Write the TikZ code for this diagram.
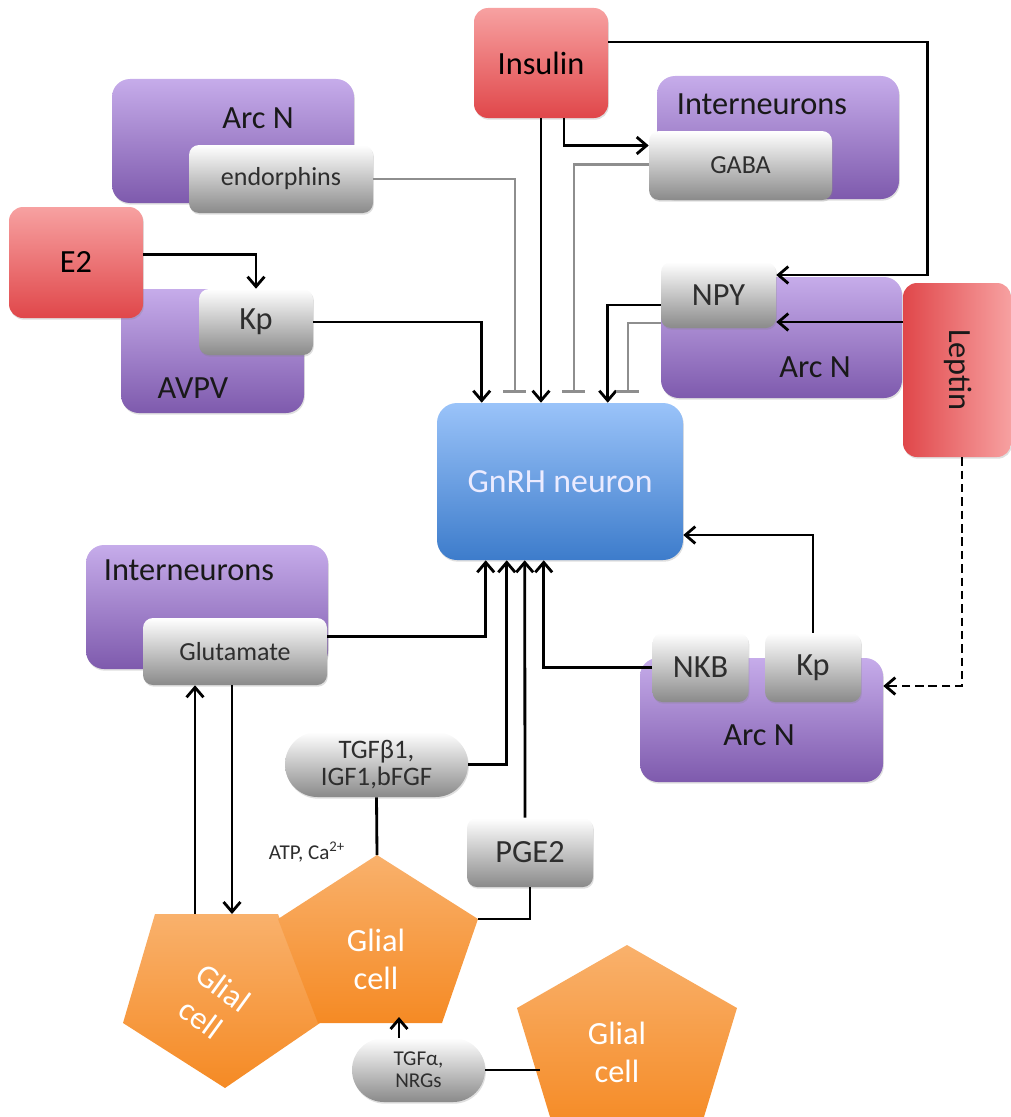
\documentclass[tikz,border=0pt]{standalone}
\usepackage{fontspec}
\setmainfont{Carlito}
\usetikzlibrary{arrows.meta, calc, shapes.misc, shadows}

\definecolor{redtop}{HTML}{F7A1A1}
\definecolor{redbot}{HTML}{E0474A}
\definecolor{purtop}{HTML}{C6ACEA}
\definecolor{purbot}{HTML}{7E5AAD}
\definecolor{bluetop}{HTML}{9AC3F9}
\definecolor{bluebot}{HTML}{3D7CCB}
\definecolor{greybot}{HTML}{8A8A8A}
\definecolor{orgtop}{HTML}{F9B16C}
\definecolor{orgbot}{HTML}{F58A24}
\definecolor{inhgrey}{HTML}{8E8E8E}
\definecolor{txtgrey}{HTML}{2E2E2E}

\newcommand{\lblbig}{\fontsize{23}{27}\selectfont}
\newcommand{\lblmid}{\fontsize{18.5}{22}\selectfont}
\newcommand{\lblsml}{\fontsize{15}{15.5}\selectfont}

\begin{document}
\begin{tikzpicture}[
    x=0.025cm, y=-0.025cm,
    >={Straight Barb[length=7pt, width=12pt]},
    sz/.style 2 args={minimum width=#1*0.025cm, minimum height=#2*0.025cm},
    boxbase/.style={inner sep=0pt, align=center,
        drop shadow={shadow xshift=0.6pt, shadow yshift=-1.2pt, opacity=0.25}},
    redbase/.style={boxbase, rounded corners=0.35cm, font=\lblbig},
    redbox/.style={redbase, top color=redtop, bottom color=redbot},
    purbox/.style={boxbase, rounded corners=0.45cm, top color=purtop, bottom color=purbot},
    greybox/.style={boxbase, rounded corners=0.25cm, top color=white,
        bottom color=greybot, text=txtgrey, font=\lblbig},
    pillbox/.style={boxbase, rounded rectangle, top color=white,
        bottom color=greybot, text=txtgrey},
    lbl/.style={font=\lblbig, text=black!90},
    arr/.style={->, line width=2pt},
    link/.style={line width=2pt},
    inh/.style={-{Bar[width=16pt]}, line width=1.7pt, draw=inhgrey},
    glial/.style={top color=orgtop, bottom color=orgbot},
    glialtxt/.style={font=\lblbig, text=white, align=center}
  ]
  \useasboundingbox (0,0) rectangle (1011,1117);
  \clip (0,0) rectangle (1011,1117);

  % glial cells
  \coordinate (gmTop) at (377,855);
  \coordinate (gmRight) at (478,919);
  \coordinate (gmBot) at (399,1017);
  \coordinate (glA) at (195,914);
  \coordinate (glB) at (232,914);
  \coordinate (grL) at (540,1070);
  \path[glial] (155,914) -- (278,914) -- (320,1023) -- (225,1088) -- (123,1023) -- cycle;
  \path[glial] (gmTop) -- (gmRight) -- (442,1023) -- (318,1023) -- (278,919) -- cycle;
  \path[glial] (627,945) -- (737,1008) -- (700,1130) -- (554,1130) -- (517,1008) -- cycle;
  \node[glialtxt, rotate=-36] (glialL) at (212,1003) {Glial\\cell};
  \node[glialtxt] (glialM) at (376,959) {Glial\\cell};
  \node[glialtxt] (glialR) at (617,1052) {Glial\\cell};

  % nuclei
  \node[purbox, sz={242}{124}] (arcTL) at (233,141) {};
  \node[purbox, sz={183}{124}] (avpv) at (212.5,351) {};
  \node[purbox, sz={242}{123}] (intTR) at (778,137.5) {};
  \node[purbox, sz={241}{121}] (arcR) at (781.5,337.5) {};
  \node[purbox, sz={242}{124}] (intL) at (207,607) {};
  \node[purbox, sz={243}{124}] (arcB) at (761.5,720) {};
  \node[lbl] (arcTLlbl) at (258,118) {Arc N};
  \node[lbl] (avpvlbl) at (193,388) {AVPV};
  \node[lbl] (intTRlbl) at (762,104) {Interneurons};
  \node[lbl] (arcRlbl) at (815,367) {Arc N};
  \node[lbl] (intLlbl) at (189,570) {Interneurons};
  \node[lbl] (arcBlbl) at (759,735) {Arc N};

  % signals
  \node[redbox, sz={134}{110}] (insulin) at (541,63) {Insulin};
  \node[redbox, sz={134}{111}] (e2) at (76,262.5) {E2};
  \node[redbase, left color=redbot, right color=redtop, sz={108}{174}] (leptin) at (957,370) {};
  \node[lbl, rotate=-90] (leptinlbl) at (958,370) {Leptin};

  \node[greybox, font=\lblmid, sz={184}{68}] (endo) at (281,179) {endorphins};
  \node[greybox, sz={114}{66}] (kpA) at (256,322) {Kp};
  \node[greybox, font=\lblmid, sz={183}{69}] (gaba) at (740.5,165.5) {GABA};
  \node[greybox, sz={115}{66}] (npy) at (718.5,295) {NPY};
  \node[greybox, font=\lblmid, sz={184}{67}] (glut) at (235,651.5) {Glutamate};
  \node[greybox, sz={96}{69}] (nkb) at (700.5,667.5) {NKB};
  \node[greybox, sz={96}{69}] (kpB) at (813,667.5) {Kp};
  \node[greybox, sz={126}{69}] (pge2) at (530,852.5) {PGE2};
  \node[pillbox, font=\fontsize{19}{19.5}\selectfont, sz={183}{65}] (tgfb) at (376.5,764.5) {TGFβ1,\\IGF1,bFGF};
  \node[pillbox, font=\lblsml, sz={133}{64}] (tgfa) at (418.5,1070) {TGFα,\\NRGs};
  \node[font=\lblsml, text=txtgrey] (atp) at (307,852) {ATP, Ca\textsuperscript{2+}};

  \node[boxbase, rounded corners=0.5cm, top color=bluetop, bottom color=bluebot,
    text=white!92!blue, font=\fontsize{24}{28}\selectfont, sz={246}{157}] (gnrh) at (560,481.5) {GnRH neuron};

  % inputs from above
  \draw[arr] ($(e2.east)+(0,-8)$) -| (kpA.north);
  \draw[arr] (kpA.east) -| ($(gnrh.north west)+(45,0)$);
  \draw[inh] (endo.east) -| ($(gnrh.north west)+(78,-10)$);
  \draw[arr] (insulin.south) -- (insulin.south |- gnrh.north);
  \draw[arr] ($(insulin.south)+(23,0)$) |- ($(gaba.west)+(0,-20)$);
  \draw[inh] ($(gaba.west)+(0,-1)$) -| ($(gnrh.north west)+(137,-10)$);
  \draw[arr] ($(insulin.east)+(0,-21)$) -| ($(npy.east)+(151,-20)$) -- ($(npy.east)+(0,-20)$);
  \draw[arr] ($(leptin.west)+(0,-48)$) coordinate (lp) -- (lp -| npy.east);
  \draw[arr] ($(npy.west)+(0,10)$) -| ($(gnrh.north west)+(171,0)$);
  \draw[inh] ($(npy.west)+(0,28)$) -| ($(gnrh.north west)+(191,-10)$);

  % inputs from below
  \draw[arr, dash pattern=on 6pt off 3.5pt] ($(leptin.south)+(5,0)$) |- ($(arcB.east)+(0,-34)$);
  \draw[arr] (kpB.north) |- ($(gnrh.east)+(0,53.5)$);
  \draw[arr] (nkb.west) -| ($(gnrh.south west)+(107,0)$);
  \draw[arr] ($(glut.east)+(0,-15)$) -| ($(gnrh.south west)+(49,0)$);
  \draw[arr] (tgfb.east) -| ($(gnrh.south west)+(70,0)$);
  \draw[arr] ($(pge2.north)+(-5,0)$) -- ($(gnrh.south west)+(88,0)$);

  % glia
  \draw[link] (tgfb.south) -- (gmTop);
  \draw[link] (pge2.south) |- (gmRight);
  \draw[arr] (glA) -- (glA |- glut.south);
  \draw[arr] (glB |- glut.south) -- (glB);
  \draw[arr] (gmBot |- tgfa.north) -- (gmBot);
  \draw[link] (tgfa.east) -- (tgfa.east -| grL);
\end{tikzpicture}
\end{document}
